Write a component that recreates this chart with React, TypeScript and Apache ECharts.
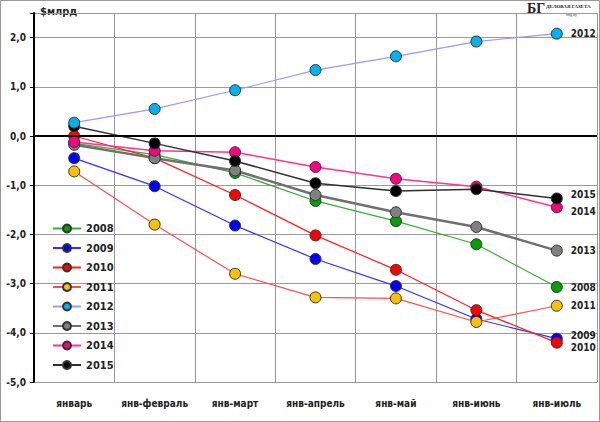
import { useEffect, useRef } from "react";
import * as echarts from "echarts";

const categories = ["январь", "янв-февраль", "янв-март", "янв-апрель", "янв-май", "янв-июнь", "янв-июль"];
const years = ["2008", "2009", "2010", "2011", "2012", "2013", "2014", "2015"];
const values: number[][] = [
  [-0.15, -0.38, -0.75, -1.32, -1.73, -2.2, -3.07],
  [-0.45, -1.02, -1.82, -2.5, -3.05, -3.72, -4.12],
  [0.0, -0.45, -1.2, -2.02, -2.72, -3.54, -4.2],
  [-0.72, -1.8, -2.8, -3.28, -3.3, -3.78, -3.45],
  [0.27, 0.55, 0.93, 1.34, 1.62, 1.92, 2.08],
  [-0.18, -0.45, -0.7, -1.2, -1.55, -1.85, -2.33],
  [-0.12, -0.3, -0.33, -0.63, -0.87, -1.03, -1.45],
  [0.2, -0.15, -0.51, -0.96, -1.12, -1.08, -1.27],
];
const markerColors = ["#00a000", "#0000ff", "#ff0000", "#ffc000", "#00b0f0", "#808080", "#ff0080", "#000000"];
const lineColors = ["#33b033", "#3333ff", "#ff2020", "#ff5050", "#9999ff", "#707070", "#ff3399", "#303030"];
const lineWidths = [1.2, 1.2, 1.2, 1.2, 1.2, 2.5, 1.5, 1.5];
const labelOffsets = [0, -3, 5, 0, 0, 0, 4, -4];

export default function App() {
  const ref = useRef<HTMLDivElement>(null);

  useEffect(() => {
    if (!ref.current) return;
    document.body.style.margin = "0";
    const chart = echarts.init(ref.current, null, { renderer: "svg" });
    const font = "DejaVu Sans Condensed";
    chart.setOption({
      animation: false,
      backgroundColor: "#fff",
      textStyle: { fontFamily: font },
      grid: { left: 34, right: 3, top: 13, bottom: 40 },
      xAxis: {
        type: "category",
        data: categories,
        boundaryGap: true,
        axisLine: { show: false },
        axisTick: { show: false },
        axisLabel: { interval: 0, color: "#222", fontWeight: "bold", fontSize: 10, margin: 16, fontFamily: font },
        splitLine: { show: true, interval: 0, lineStyle: { color: "#999" } },
      },
      yAxis: {
        type: "value",
        min: -5,
        max: 2.5,
        interval: 1,
        axisLine: { show: true, onZero: false, lineStyle: { color: "#000", width: 2 } },
        axisTick: { show: true, length: 4, lineStyle: { color: "#000" } },
        axisLabel: {
          color: "#222",
          fontWeight: "bold",
          fontSize: 10,
          fontFamily: font,
          formatter: (v: number) => (Number.isInteger(v) ? v.toFixed(1).replace(".", ",") : ""),
        },
        splitLine: { lineStyle: { color: "#999" } },
      },
      legend: {
        orient: "vertical",
        left: 47,
        top: 218,
        itemGap: 8.5,
        itemWidth: 28,
        itemHeight: 10,
        data: years,
        textStyle: { fontSize: 11, fontWeight: "bold", color: "#222", fontFamily: font },
      },
      graphic: [
        { type: "rect", shape: { x: 0.5, y: 0.5, width: 599, height: 421 }, style: { fill: "none", stroke: "#999", lineWidth: 1 }, silent: true },
        { type: "text", left: 40, top: 6, style: { text: "$млрд", font: `bold 11px '${font}'`, fill: "#222" } },
        { type: "text", left: 527, top: 1, style: { text: "БГ", font: "bold 14px 'Liberation Serif'", fill: "#222" } },
        { type: "text", left: 546, top: 4, style: { text: "ДЕЛОВАЯ ГАЗЕТА", font: "bold 5px 'Liberation Serif'", fill: "#222" } },
        { type: "text", left: 566, top: 12, style: { text: "bdg.by", font: "4px 'Liberation Serif'", fill: "#444" } },
      ],
      series: years.map((y, i) => ({
        name: y,
        type: "line",
        data: values[i],
        symbol: "circle",
        symbolSize: 11,
        z: i === 4 ? 3 : 2,
        lineStyle: { color: lineColors[i], width: lineWidths[i] },
        itemStyle: { color: markerColors[i], borderColor: "#333", borderWidth: 1 },
        label: {
          show: true,
          position: "right",
          distance: 8,
          offset: [0, labelOffsets[i]],
          fontSize: 10,
          fontWeight: "bold",
          color: "#222",
          fontFamily: font,
          formatter: (p: any) => (p.dataIndex === categories.length - 1 ? y : ""),
        },
        markLine:
          i === 0
            ? {
                silent: true,
                symbol: "none",
                label: { show: false },
                lineStyle: { color: "#000", width: 2, type: "solid" },
                data: [{ yAxis: 0 }],
              }
            : undefined,
      })),
    });
    return () => chart.dispose();
  }, []);

  return <div ref={ref} style={{ width: 600, height: 422 }} />;
}
